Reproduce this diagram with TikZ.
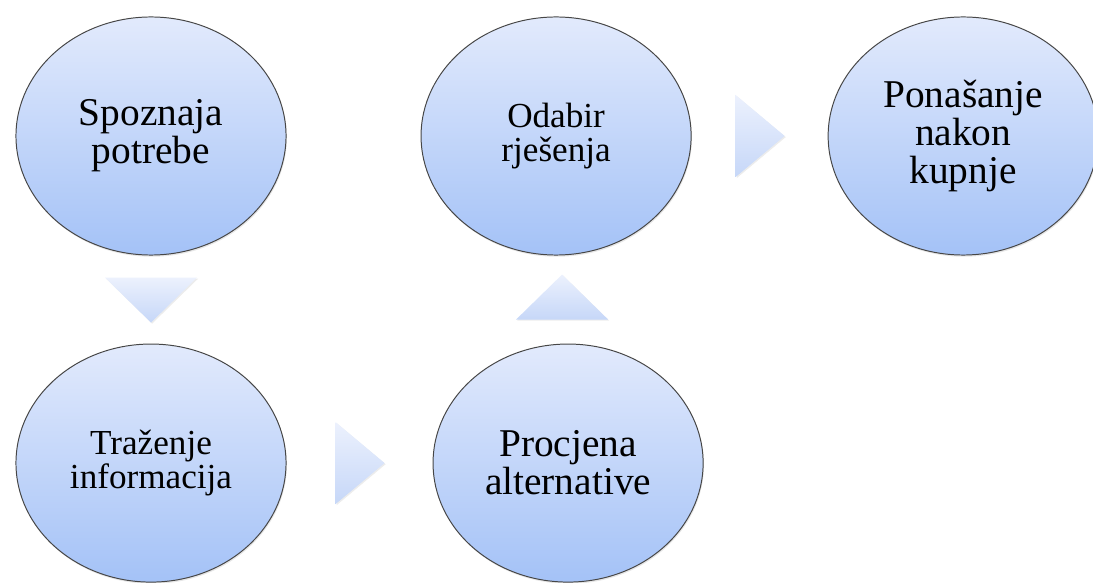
\documentclass[tikz,border=0pt]{standalone}
\usepackage{fontspec}
\setmainfont{Liberation Serif}
\usepackage{xcolor}
\definecolor{stagetop}{RGB}{226, 234, 252}
\definecolor{stagebottom}{RGB}{164, 194, 247}
\definecolor{stagerim}{RGB}{70, 70, 70}
\definecolor{pointertop}{RGB}{236, 241, 253}
\definecolor{pointerbottom}{RGB}{198, 215, 248}
\usetikzlibrary{shapes.geometric, positioning, calc, shadows}

\begin{document}
\begin{tikzpicture}[
    x=0.025cm, y=-0.025cm,
    stage/.style={ellipse, draw=stagerim, line width=0.7pt,
                top color=stagetop, bottom color=stagebottom,
                minimum width=6.75cm, minimum height=5.95cm, inner sep=0pt,
                align=center,
                drop shadow={opacity=0.2, shadow xshift=0.6pt, shadow yshift=-1.2pt}},
    bigtext/.style={font=\fontsize{28}{27}\selectfont},
    smalltext/.style={font=\fontsize{25}{24}\selectfont},
    pointer/.style={top color=pointertop, bottom color=pointerbottom, draw=none,
                drop shadow={opacity=0.15, shadow xshift=0.8pt, shadow yshift=-0.8pt}}
]
    \useasboundingbox (0,0) rectangle (1093,583);

    \node[stage, bigtext] (need) at (151,136) {Spoznaja\\potrebe};
    \node[stage, smalltext, below=2.2cm of need] (search) {Traženje\\informacija};
    \node[stage, smalltext, right=3.35cm of need] (choice) {Odabir\\rješenja};
    \node[stage, bigtext, below=2.2cm of choice, xshift=0.3cm] (assess) {Procjena\\alternative};
    \node[stage, bigtext, right=3.4cm of choice] (after) {Ponašanje\\nakon\\kupnje};

    % step pointers
    \path[pointer] ($(need)!0.5!(search)$) ++(-46,-22) -- ++(92,0) -- ++(-46,45) -- cycle;
    \path[pointer] ($(search)!0.5!(assess)$) ++(-24,-41) -- ++(0,82) -- ++(49,-41) -- cycle;
    \path[pointer] ($(assess)!0.5!(choice)$) ++(-46,20) -- ++(92,0) -- ++(-46,-45) -- cycle;
    \path[pointer] ($(choice)!0.5!(after)$) ++(-24,-41) -- ++(0,82) -- ++(49,-41) -- cycle;
\end{tikzpicture}
\end{document}
